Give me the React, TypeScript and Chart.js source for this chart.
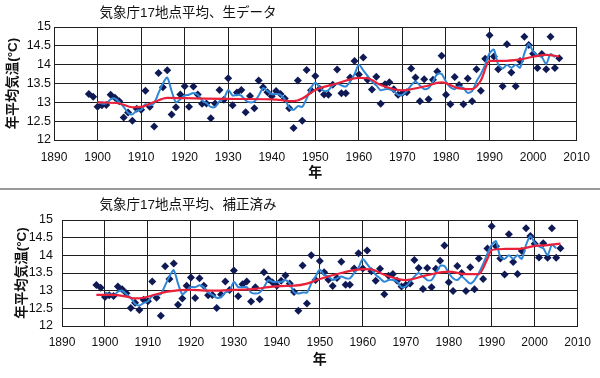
import React, { useEffect, useRef } from "react";
import { Chart, registerables } from "chart.js";

Chart.register(...registerables);

// ---------- data ----------
const TITLE_TOP = "気象庁17地点平均、生データ";
const TITLE_BOTTOM = "気象庁17地点平均、補正済み";
const X_TITLE = "年";
const Y_TITLE = "年平均気温(°C)";

const RAW_START = 1898; // yearly values from 1898 to 2006
const topRaw = [
  13.22, 13.15, 12.88, 12.92, 12.93, 13.2, 13.12, 13.03, 12.6, 12.73,
  12.51, 12.83, 12.8, 13.31, 12.88, 12.36, 13.78, 13.4, 13.85, 12.68,
  12.87, 13.21, 13.43, 12.88, 13.42, 13.21, 12.96, 12.97, 12.58, 12.97,
  13.33, 13.07, 13.64, 12.92, 13.26, 13.33, 12.74, 13.17, 12.84, 13.58,
  13.4, 13.27, 13.16, 13.3, 13.22, 13.1, 12.84, 12.32, 13.58, 12.51,
  13.86, 13.32, 13.7, 13.36, 13.21, 13.2, 13.47, 13.87, 13.24, 13.24,
  13.66, 14.1, 13.74, 14.19, 13.6, 13.34, 13.68, 12.96, 13.48, 13.53,
  13.35, 13.2, 13.25, 13.27, 13.9, 13.66, 13.03, 13.61, 13.08, 13.6,
  13.82, 14.24, 13.2, 12.95, 13.67, 13.46, 12.95, 13.63, 13.03, 13.88,
  13.31, 14.16, 14.78, 14.22, 13.88, 13.43, 14.54, 13.79, 13.43, 14.1,
  14.74, 14.52, 14.29, 13.91, 14.28, 13.88, 14.74, 13.91, 14.17,
];
const bottomRaw = [
  13.16, 13.08, 12.82, 12.87, 12.85, 13.12, 13.04, 12.93, 12.51, 12.66,
  12.45, 12.74, 12.7, 13.26, 12.8, 12.29, 13.69, 13.33, 13.77, 12.6,
  12.78, 13.14, 13.37, 12.79, 13.35, 13.14, 12.87, 12.88, 12.51, 12.89,
  13.26, 13.02, 13.57, 12.84, 13.18, 13.26, 12.69, 13.1, 12.76, 13.52,
  13.32, 13.23, 13.14, 13.28, 13.43, 13.2, 12.96, 12.43, 13.71, 12.64,
  14.0, 13.3, 13.84, 13.52, 13.31, 13.13, 13.36, 13.82, 13.17, 13.17,
  13.63, 14.06, 13.63, 14.14, 13.55, 13.28, 13.62, 12.9, 13.42, 13.47,
  13.28, 13.12, 13.16, 13.2, 13.87, 13.64, 13.05, 13.64, 13.1, 13.62,
  13.85, 14.28, 13.24, 12.99, 13.7, 13.5, 12.99, 13.66, 13.04, 13.91,
  13.33, 14.19, 14.82, 14.26, 13.91, 13.46, 14.6, 13.81, 13.47, 14.12,
  14.77, 14.55, 14.33, 13.94, 14.34, 13.93, 14.77, 13.93, 14.2,
];

const BLUE_START = 1900; // running-mean line, 1900 to 2005
const topBlue = [
  13.02, 12.97, 12.97, 13.08, 13.1, 13.0, 12.88, 12.72, 12.68, 12.78,
  12.8, 12.95, 12.92, 12.98, 13.25, 13.5, 13.66, 13.3, 13.0, 13.08,
  13.18, 13.2, 13.25, 13.2, 13.05, 12.98, 12.88, 12.88, 13.03, 13.1,
  13.33, 13.18, 13.2, 13.18, 13.05, 13.0, 13.02, 13.18, 13.38, 13.3,
  13.22, 13.22, 13.2, 13.08, 12.86, 12.8, 12.9, 12.88, 13.1, 13.38,
  13.52, 13.4, 13.3, 13.32, 13.45, 13.5, 13.45, 13.42, 13.55, 13.75,
  14.0, 13.85, 13.7, 13.55, 13.45, 13.32, 13.35, 13.35, 13.3, 13.2,
  13.2, 13.3, 13.45, 13.55, 13.45, 13.35, 13.38, 13.55, 13.75, 13.75,
  13.55, 13.4, 13.35, 13.42, 13.38, 13.25, 13.3, 13.55, 13.75, 14.0,
  14.3, 14.4, 14.0, 13.9, 14.0, 13.92, 14.0, 13.92, 14.3, 14.55,
  14.35, 14.25, 14.2, 14.02, 14.28, 14.2,
];
const bottomBlue = [
  12.95, 12.9, 12.87, 12.97, 13.0, 12.9, 12.8, 12.63, 12.58, 12.65,
  12.7, 12.85, 12.88, 12.9, 13.15, 13.4, 13.58, 13.2, 12.9, 13.0,
  13.1, 13.1, 13.15, 13.1, 12.95, 12.88, 12.8, 12.82, 12.95, 13.0,
  13.25, 13.1, 13.1, 13.1, 12.95, 12.92, 12.95, 13.1, 13.3, 13.25,
  13.25, 13.25, 13.3, 13.2, 12.95, 12.92, 12.95, 12.95, 13.2, 13.4,
  13.6, 13.45, 13.4, 13.3, 13.35, 13.4, 13.35, 13.35, 13.5, 13.65,
  13.9, 13.75, 13.6, 13.45, 13.35, 13.25, 13.3, 13.3, 13.25, 13.1,
  13.12, 13.25, 13.4, 13.5, 13.4, 13.3, 13.3, 13.5, 13.7, 13.7,
  13.5, 13.35, 13.3, 13.4, 13.3, 13.2, 13.3, 13.5, 13.75, 14.05,
  14.3, 14.4, 13.95, 13.9, 14.0, 13.9, 14.0, 13.9, 14.3, 14.55,
  14.35, 14.25, 14.2, 14.0, 14.3, 14.2,
];

// long-term trend line (red), read at selected years
const topRedYears = [1900, 1905, 1908, 1910, 1913, 1916, 1920, 1930, 1940, 1945, 1947, 1950, 1955, 1960, 1962, 1965, 1970, 1975, 1979, 1983, 1986, 1988, 1990, 1993, 1997, 2000, 2003, 2006];
const topRedValues = [13.0, 12.97, 12.87, 12.88, 13.01, 13.12, 13.11, 13.09, 13.08, 13.03, 13.1, 13.33, 13.5, 13.65, 13.64, 13.46, 13.32, 13.42, 13.53, 13.37, 13.35, 13.58, 14.1, 14.1, 14.14, 14.21, 14.26, 14.22];
const bottomRedYears = [1898, 1902, 1905, 1907, 1909, 1912, 1915, 1920, 1925, 1930, 1935, 1938, 1941, 1944, 1947, 1950, 1955, 1960, 1962, 1965, 1970, 1975, 1980, 1984, 1987, 1989, 1990, 1993, 1997, 2000, 2003, 2006];
const bottomRedValues = [12.88, 12.88, 12.83, 12.78, 12.8, 12.9, 12.98, 13.02, 13.0, 13.02, 13.05, 13.1, 13.13, 13.14, 13.2, 13.33, 13.5, 13.61, 13.6, 13.45, 13.3, 13.44, 13.54, 13.47, 13.47, 13.9, 14.15, 14.18, 14.19, 14.27, 14.29, 14.33];

// ---------- chart ----------
const FONT = "'Liberation Sans', Arial, 'Noto Sans CJK JP', sans-serif";
const GRID = "#1e1e1e";

const fixedTitle = {
  id: "fixedTitle",
  afterDraw(chart: any, _a: any, opts: any) {
    const ctx = chart.ctx;
    ctx.save();
    ctx.font = `${opts.size}px ${FONT}`;
    ctx.fillStyle = "#111";
    ctx.textAlign = "center";
    ctx.textBaseline = "middle";
    ctx.fillText(opts.text, opts.x, opts.y);
    ctx.restore();
  },
};

type Cfg = {
  raw: number[];
  blue: number[];
  redYears: number[];
  redValues: number[];
  title: string;
  titleY: number;
  left: number;
  right: number;
  top: number;
  bottom: number;
  height: number;
  yTickPad: number;
  xTickPad: number;
  yTitlePad: number;
  xTitlePad: number;
};

function makeConfig(c: Cfg): any {
  return {
    type: "scatter",
    data: {
      datasets: [
        {
          label: "trend",
          data: c.redYears.map((y, i) => ({ x: y, y: c.redValues[i] })),
          showLine: true,
          borderColor: "#e8213b",
          borderWidth: 2.2,
          pointRadius: 0,
          cubicInterpolationMode: "monotone",
          order: 0,
        },
        {
          label: "running mean",
          data: c.blue.map((v, i) => ({ x: BLUE_START + i, y: v })),
          showLine: true,
          borderColor: "#2f86d6",
          borderWidth: 2,
          pointRadius: 0,
          tension: 0.25,
          order: 1,
        },
        {
          label: "annual",
          data: c.raw.map((v, i) => ({ x: RAW_START + i, y: v })),
          showLine: false,
          pointStyle: "rectRot",
          pointRadius: 4,
          pointBorderWidth: 0,
          backgroundColor: "#0f1a55",
          borderColor: "#0f1a55",
          order: 2,
        },
      ],
    },
    options: {
      animation: false,
      responsive: false,
      maintainAspectRatio: false,
      layout: { padding: { left: 0, right: 600 - c.right, top: c.top, bottom: 0 } },
      plugins: {
        legend: { display: false },
        tooltip: { enabled: false },
        title: { display: false },
        fixedTitle: { text: c.title, x: 188, y: c.titleY, size: 13.5 },
      },
      scales: {
        x: {
          type: "linear",
          min: 1890,
          max: 2010,
          ticks: {
            stepSize: 10,
            padding: c.xTickPad,
            color: "#111",
            font: { family: FONT, size: 12 },
            maxRotation: 0,
            autoSkip: false,
            callback: (v: number) => String(v),
          },
          grid: { color: GRID, lineWidth: 1, drawTicks: false },
          border: { color: GRID, width: 1 },
          title: {
            display: true,
            text: X_TITLE,
            color: "#111",
            font: { family: FONT, size: 14, weight: "bold" },
            padding: { top: 0, bottom: c.xTitlePad },
          },
          afterFit: (s: any) => {
            s.height = c.height - c.bottom;
          },
        },
        y: {
          min: 12,
          max: 15,
          ticks: {
            stepSize: 0.5,
            padding: c.yTickPad,
            color: "#111",
            autoSkip: false,
            font: { family: FONT, size: 12.5 },
            callback: (v: number) => String(Math.round(v * 10) / 10),
          },
          grid: { color: GRID, lineWidth: 1, drawTicks: false },
          border: { color: GRID, width: 1 },
          title: {
            display: true,
            text: Y_TITLE,
            color: "#111",
            font: { family: FONT, size: 13.5, weight: "bold" },
            padding: { top: c.yTitlePad, bottom: 0 },
          },
          afterFit: (s: any) => {
            s.width = c.left;
          },
        },
      },
    },
    plugins: [fixedTitle],
  };
}

function ChartCanvas({ cfg, top }: { cfg: Cfg; top: number }) {
  const ref = useRef<HTMLCanvasElement | null>(null);
  useEffect(() => {
    if (!ref.current) return;
    const chart = new Chart(ref.current, makeConfig(cfg));
    return () => chart.destroy();
  }, [cfg]);
  return (
    <canvas
      ref={ref}
      width={600}
      height={cfg.height}
      style={{ position: "absolute", left: 0, top, width: 600, height: cfg.height, display: "block" }}
    />
  );
}

const topCfg: Cfg = {
  raw: topRaw,
  blue: topBlue,
  redYears: topRedYears,
  redValues: topRedValues,
  title: TITLE_TOP,
  titleY: 13,
  left: 54,
  right: 577,
  top: 27,
  bottom: 140,
  height: 188,
  yTickPad: 3,
  xTickPad: 10,
  yTitlePad: 5,
  xTitlePad: 6,
};

const bottomCfg: Cfg = {
  raw: bottomRaw,
  blue: bottomBlue,
  redYears: bottomRedYears,
  redValues: bottomRedValues,
  title: TITLE_BOTTOM,
  titleY: 15,
  left: 62,
  right: 578,
  top: 30,
  bottom: 136,
  height: 188,
  yTickPad: 9,
  xTickPad: 9,
  yTitlePad: 14,
  xTitlePad: 9,
};

export default function App() {
  return (
    <div style={{ position: "fixed", left: 0, top: 0, width: 600, height: 378, background: "#fff", overflow: "hidden" }}>
      <ChartCanvas cfg={topCfg} top={0} />
      <div style={{ position: "absolute", left: 0, top: 188, width: 600, height: 2, background: "#9a9a9a" }} />
      <ChartCanvas cfg={bottomCfg} top={190} />
    </div>
  );
}
